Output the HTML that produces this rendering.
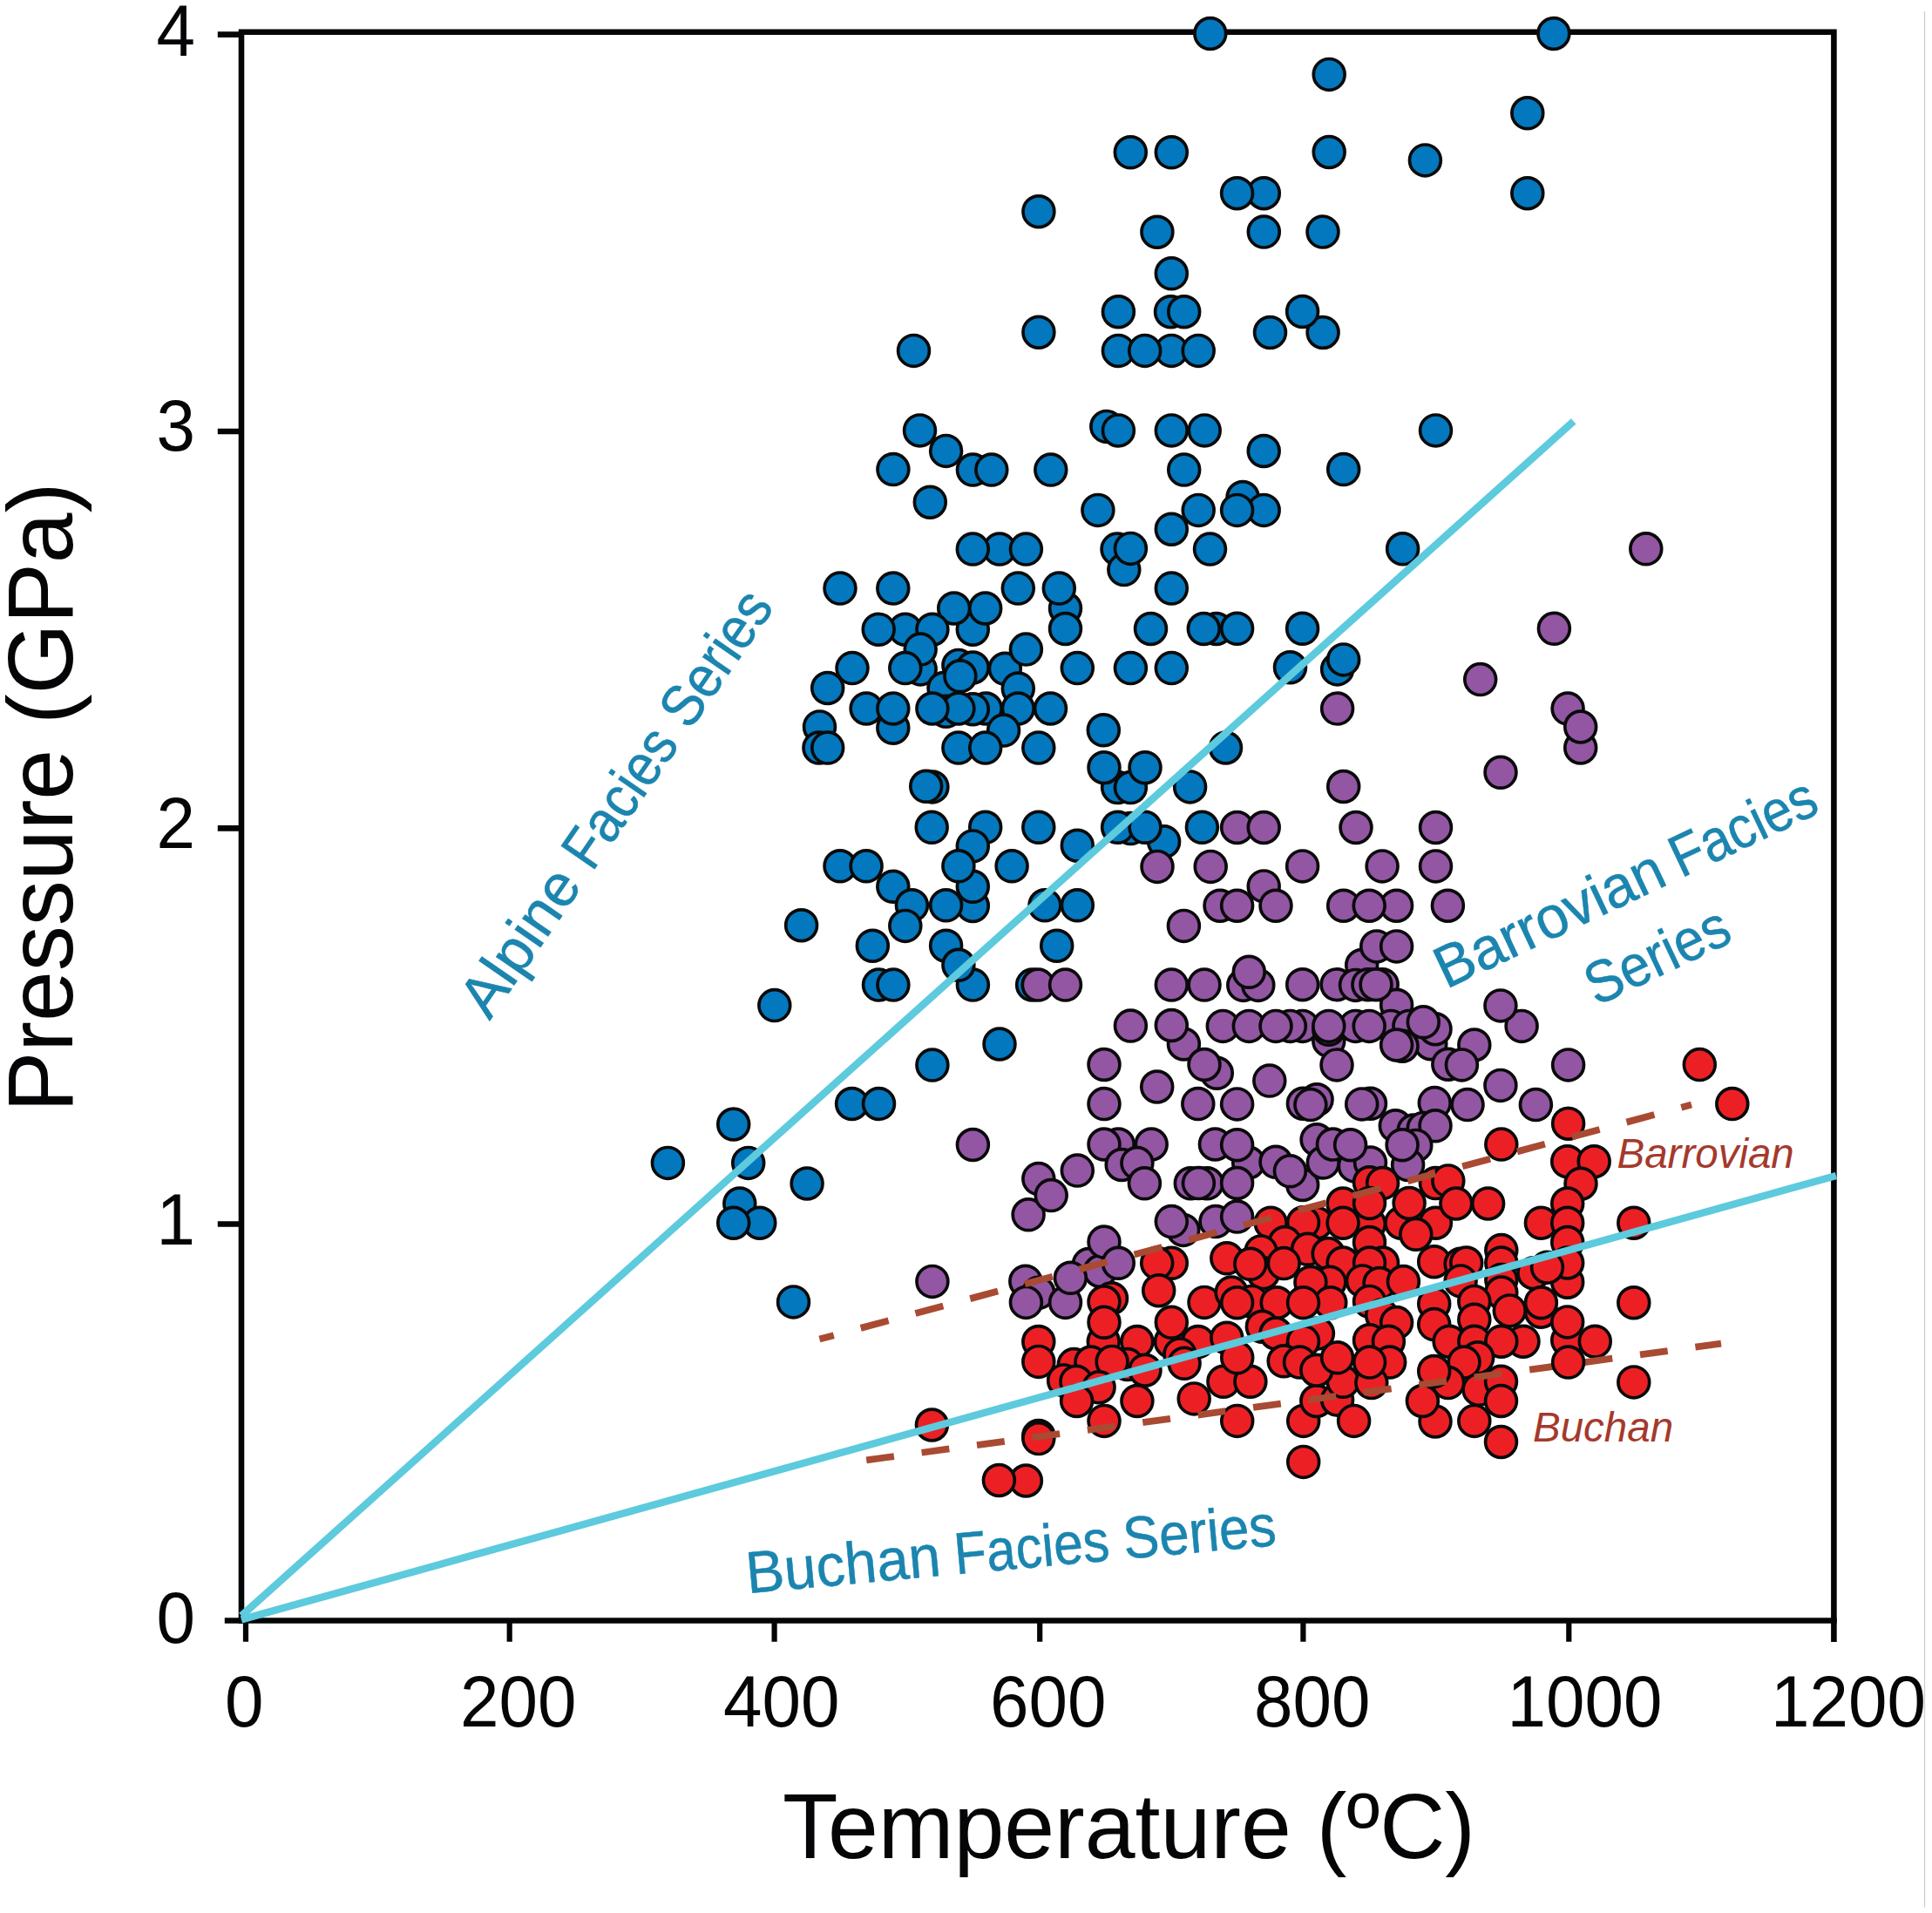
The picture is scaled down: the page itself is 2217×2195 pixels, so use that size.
<!DOCTYPE html>
<html><head><meta charset="utf-8"><title>P-T diagram</title>
<style>
html,body{margin:0;padding:0;background:#fff;}
body{width:2217px;height:2195px;overflow:hidden;position:relative;}
svg{position:absolute;left:0;top:0;display:block;}
text{font-family:"Liberation Sans",sans-serif;}
.b{fill:#0378BE;stroke:#0a0a0a;stroke-width:3.7}
.p{fill:#9256A3;stroke:#0a0a0a;stroke-width:3.7}
.r{fill:#EC2024;stroke:#0a0a0a;stroke-width:3.7}
.ax{stroke:#050507;stroke-width:6.6;fill:none}
.cy{stroke:#5DCADD;stroke-width:8.5;fill:none}
.da{stroke:#A94A33;stroke-width:7.8;fill:none}
.tk{font-size:80px;fill:#050507}
.al{font-size:104px;fill:#050507}
.fs{font-size:68px;fill:#1B85AF;stroke:#1B85AF;stroke-width:0.5}
.it{font-size:47.5px;font-style:italic;fill:#A5392C}
</style></head><body>
<svg width="2217" height="2195" viewBox="0 0 2217 2195">
<rect x="0" y="0" width="2217" height="2195" fill="#fff"/>
<line x1="2208.5" y1="13" x2="2208.5" y2="2188.5" stroke="#cdcdd2" stroke-width="1.3"/>
<!-- frame -->
<path class="ax" d="M277,1862.9 V36.8 H2104.4 V1884"/>
<path class="ax" d="M257.8,1859.5 H2107.7"/>
<!-- y ticks -->
<path class="ax" d="M249.8,39.6 H277 M249.8,495 H277 M249.8,950.4 H277 M249.8,1404.5 H277"/>
<!-- x ticks -->
<path class="ax" d="M282,1859 V1883.7 M584.7,1859 V1883.7 M888.6,1859 V1883.7 M1193.2,1859 V1883.7 M1495.4,1859 V1883.7 M1800.3,1859 V1883.7" style="stroke-width:6.2"/>
<!-- tick labels -->
<g class="tk" text-anchor="end">
<text x="224" y="61.29" transform="scale(1,1.041)">4</text>
<text x="224" y="497.12" transform="scale(1,1.041)">3</text>
<text x="224" y="934.68" transform="scale(1,1.041)">2</text>
<text x="224" y="1371.76" transform="scale(1,1.041)">1</text>
<text x="224" y="1811.24" transform="scale(1,1.041)">0</text>
</g>
<g class="tk">
<text x="258" y="1902.98" transform="scale(1,1.041)">0</text>
<text x="528" y="1902.98" transform="scale(1,1.041)">200</text>
<text x="830" y="1902.98" transform="scale(1,1.041)">400</text>
<text x="1136" y="1902.98" transform="scale(1,1.041)">600</text>
<text x="1439" y="1902.98" transform="scale(1,1.041)">800</text>
<text x="1729.6" y="1902.98" transform="scale(1,1.041)">1000</text>
<text x="2032" y="1902.98" transform="scale(1,1.041)">1200</text>
</g>
<text class="al" x="898" y="2090.69" transform="scale(1,1.02)">Temperature (ºC)</text>
<text class="al" transform="translate(83,1276) rotate(-90) scale(1,1.02)">Pressure (GPa)</text>
<circle class="b" cx="1388.8" cy="38.5" r="17.9"/>
<circle class="b" cx="1782.9" cy="38.5" r="17.9"/>
<circle class="b" cx="1525.2" cy="85.4" r="17.9"/>
<circle class="b" cx="1752.8" cy="129.8" r="17.9"/>
<circle class="b" cx="1525.2" cy="174.5" r="17.9"/>
<circle class="b" cx="1635.4" cy="183.9" r="17.9"/>
<circle class="b" cx="1752.8" cy="221.7" r="17.9"/>
<circle class="b" cx="1450.3" cy="221.7" r="17.9"/>
<circle class="b" cx="1419.6" cy="221.7" r="17.9"/>
<circle class="b" cx="1450.3" cy="266.1" r="17.9"/>
<circle class="b" cx="1518.0" cy="266.1" r="17.9"/>
<circle class="b" cx="1297.3" cy="174.8" r="17.9"/>
<circle class="b" cx="1344.3" cy="174.8" r="17.9"/>
<circle class="b" cx="1191.9" cy="242.7" r="17.9"/>
<circle class="b" cx="1327.9" cy="266.2" r="17.9"/>
<circle class="b" cx="1344.3" cy="313.8" r="17.9"/>
<circle class="b" cx="1283.4" cy="357.7" r="17.9"/>
<circle class="b" cx="1343.5" cy="357.7" r="17.9"/>
<circle class="b" cx="1358.7" cy="357.7" r="17.9"/>
<circle class="b" cx="1191.9" cy="381.2" r="17.9"/>
<circle class="b" cx="1048.5" cy="402.4" r="17.9"/>
<circle class="b" cx="1283.4" cy="402.4" r="17.9"/>
<circle class="b" cx="1344.3" cy="402.4" r="17.9"/>
<circle class="b" cx="1313.7" cy="402.4" r="17.9"/>
<circle class="b" cx="1375.2" cy="402.4" r="17.9"/>
<circle class="b" cx="1269.8" cy="489.4" r="17.9"/>
<circle class="b" cx="1283.4" cy="493.9" r="17.9"/>
<circle class="b" cx="1344.3" cy="493.9" r="17.9"/>
<circle class="b" cx="1382.2" cy="493.9" r="17.9"/>
<circle class="b" cx="1055.5" cy="493.9" r="17.9"/>
<circle class="b" cx="1085.6" cy="517.4" r="17.9"/>
<circle class="b" cx="1024.9" cy="538.6" r="17.9"/>
<circle class="b" cx="1116.4" cy="539.1" r="17.9"/>
<circle class="b" cx="1137.8" cy="539.1" r="17.9"/>
<circle class="b" cx="1205.8" cy="539.1" r="17.9"/>
<circle class="b" cx="1358.7" cy="539.1" r="17.9"/>
<circle class="b" cx="1067.3" cy="576.2" r="17.9"/>
<circle class="b" cx="1259.9" cy="585.4" r="17.9"/>
<circle class="b" cx="1375.2" cy="585.4" r="17.9"/>
<circle class="b" cx="1147.0" cy="630.1" r="17.9"/>
<circle class="b" cx="1116.3" cy="630.1" r="17.9"/>
<circle class="b" cx="964.0" cy="675.1" r="17.9"/>
<circle class="b" cx="1024.8" cy="675.1" r="17.9"/>
<circle class="b" cx="1116.3" cy="722.2" r="17.9"/>
<circle class="b" cx="1094.7" cy="698.0" r="17.9"/>
<circle class="b" cx="1130.7" cy="698.0" r="17.9"/>
<circle class="b" cx="1038.8" cy="722.2" r="17.9"/>
<circle class="b" cx="1008.2" cy="722.2" r="17.9"/>
<circle class="b" cx="1069.9" cy="722.2" r="17.9"/>
<circle class="b" cx="1056.2" cy="767.9" r="17.9"/>
<circle class="b" cx="1056.2" cy="745.1" r="17.9"/>
<circle class="b" cx="1038.8" cy="766.6" r="17.9"/>
<circle class="b" cx="978.0" cy="766.6" r="17.9"/>
<circle class="b" cx="1099.9" cy="763.4" r="17.9"/>
<circle class="b" cx="1116.3" cy="766.0" r="17.9"/>
<circle class="b" cx="1083.0" cy="789.5" r="17.9"/>
<circle class="b" cx="1101.9" cy="775.8" r="17.9"/>
<circle class="b" cx="949.7" cy="789.5" r="17.9"/>
<circle class="b" cx="1024.8" cy="835.2" r="17.9"/>
<circle class="b" cx="994.1" cy="813.0" r="17.9"/>
<circle class="b" cx="1024.8" cy="813.0" r="17.9"/>
<circle class="b" cx="1085.6" cy="816.3" r="17.9"/>
<circle class="b" cx="1131.3" cy="813.0" r="17.9"/>
<circle class="b" cx="1116.3" cy="813.7" r="17.9"/>
<circle class="b" cx="1099.9" cy="813.0" r="17.9"/>
<circle class="b" cx="1069.9" cy="813.0" r="17.9"/>
<circle class="b" cx="940.5" cy="833.9" r="17.9"/>
<circle class="b" cx="1177.4" cy="630.1" r="17.9"/>
<circle class="b" cx="1344.3" cy="607.2" r="17.9"/>
<circle class="b" cx="1282.0" cy="630.1" r="17.9"/>
<circle class="b" cx="1289.8" cy="653.6" r="17.9"/>
<circle class="b" cx="1297.4" cy="629.4" r="17.9"/>
<circle class="b" cx="1388.5" cy="630.1" r="17.9"/>
<circle class="b" cx="1168.3" cy="675.1" r="17.9"/>
<circle class="b" cx="1222.5" cy="698.0" r="17.9"/>
<circle class="b" cx="1215.3" cy="675.1" r="17.9"/>
<circle class="b" cx="1222.5" cy="721.5" r="17.9"/>
<circle class="b" cx="1344.3" cy="675.1" r="17.9"/>
<circle class="b" cx="1320.5" cy="721.5" r="17.9"/>
<circle class="b" cx="1395.7" cy="721.5" r="17.9"/>
<circle class="b" cx="1381.3" cy="721.5" r="17.9"/>
<circle class="b" cx="1153.3" cy="767.3" r="17.9"/>
<circle class="b" cx="1177.4" cy="745.1" r="17.9"/>
<circle class="b" cx="1236.3" cy="766.6" r="17.9"/>
<circle class="b" cx="1297.4" cy="766.6" r="17.9"/>
<circle class="b" cx="1344.3" cy="766.6" r="17.9"/>
<circle class="b" cx="1168.3" cy="790.1" r="17.9"/>
<circle class="b" cx="1168.3" cy="813.0" r="17.9"/>
<circle class="b" cx="1205.5" cy="813.0" r="17.9"/>
<circle class="b" cx="1266.3" cy="837.8" r="17.9"/>
<circle class="b" cx="1151.6" cy="838.1" r="17.9"/>
<circle class="b" cx="1518.1" cy="381.5" r="17.9"/>
<circle class="b" cx="1494.6" cy="357.5" r="17.9"/>
<circle class="b" cx="1457.5" cy="381.5" r="17.9"/>
<circle class="b" cx="1647.5" cy="493.9" r="17.9"/>
<circle class="b" cx="1450.2" cy="517.5" r="17.9"/>
<circle class="b" cx="1541.7" cy="538.6" r="17.9"/>
<circle class="b" cx="1426.1" cy="570.5" r="17.9"/>
<circle class="b" cx="1450.2" cy="585.4" r="17.9"/>
<circle class="b" cx="1419.6" cy="585.4" r="17.9"/>
<circle class="b" cx="1609.6" cy="629.8" r="17.9"/>
<circle class="b" cx="1419.6" cy="721.3" r="17.9"/>
<circle class="b" cx="1494.6" cy="721.3" r="17.9"/>
<circle class="b" cx="1480.5" cy="765.8" r="17.9"/>
<circle class="b" cx="1534.6" cy="767.9" r="17.9"/>
<circle class="b" cx="1541.7" cy="756.9" r="17.9"/>
<circle class="b" cx="939.9" cy="858.1" r="17.9"/>
<circle class="b" cx="949.7" cy="858.1" r="17.9"/>
<circle class="b" cx="1099.9" cy="858.1" r="17.9"/>
<circle class="b" cx="1130.7" cy="858.1" r="17.9"/>
<circle class="b" cx="1069.9" cy="902.9" r="17.9"/>
<circle class="b" cx="1062.7" cy="902.3" r="17.9"/>
<circle class="b" cx="1069.2" cy="949.3" r="17.9"/>
<circle class="b" cx="1130.7" cy="949.3" r="17.9"/>
<circle class="b" cx="1116.3" cy="970.9" r="17.9"/>
<circle class="b" cx="964.0" cy="993.8" r="17.9"/>
<circle class="b" cx="994.1" cy="993.8" r="17.9"/>
<circle class="b" cx="1024.8" cy="1017.3" r="17.9"/>
<circle class="b" cx="1046.4" cy="1038.8" r="17.9"/>
<circle class="b" cx="1038.8" cy="1062.4" r="17.9"/>
<circle class="b" cx="1116.3" cy="1039.5" r="17.9"/>
<circle class="b" cx="1116.3" cy="1017.3" r="17.9"/>
<circle class="b" cx="1099.9" cy="993.8" r="17.9"/>
<circle class="b" cx="1085.6" cy="1038.8" r="17.9"/>
<circle class="b" cx="919.6" cy="1061.7" r="17.9"/>
<circle class="b" cx="1001.3" cy="1085.2" r="17.9"/>
<circle class="b" cx="1085.6" cy="1085.2" r="17.9"/>
<circle class="b" cx="1191.8" cy="858.1" r="17.9"/>
<circle class="b" cx="1282.6" cy="903.6" r="17.9"/>
<circle class="b" cx="1297.4" cy="903.6" r="17.9"/>
<circle class="b" cx="1267.0" cy="880.7" r="17.9"/>
<circle class="b" cx="1314.0" cy="880.7" r="17.9"/>
<circle class="b" cx="1365.6" cy="902.9" r="17.9"/>
<circle class="b" cx="1191.8" cy="949.3" r="17.9"/>
<circle class="b" cx="1297.4" cy="950.6" r="17.9"/>
<circle class="b" cx="1282.6" cy="949.3" r="17.9"/>
<circle class="b" cx="1335.6" cy="965.7" r="17.9"/>
<circle class="b" cx="1314.0" cy="949.3" r="17.9"/>
<circle class="b" cx="1379.4" cy="949.3" r="17.9"/>
<circle class="b" cx="1236.3" cy="970.2" r="17.9"/>
<circle class="b" cx="1161.1" cy="993.8" r="17.9"/>
<circle class="b" cx="1199.0" cy="1038.8" r="17.9"/>
<circle class="b" cx="1236.3" cy="1038.8" r="17.9"/>
<circle class="b" cx="1212.7" cy="1085.2" r="17.9"/>
<circle class="b" cx="888.8" cy="1153.6" r="17.9"/>
<circle class="b" cx="841.7" cy="1290.0" r="17.9"/>
<circle class="b" cx="766.4" cy="1334.4" r="17.9"/>
<circle class="b" cx="858.7" cy="1334.4" r="17.9"/>
<circle class="b" cx="848.8" cy="1381.0" r="17.9"/>
<circle class="b" cx="871.8" cy="1403.2" r="17.9"/>
<circle class="b" cx="841.7" cy="1403.2" r="17.9"/>
<circle class="b" cx="1008.5" cy="1130.1" r="17.9"/>
<circle class="b" cx="1024.9" cy="1130.1" r="17.9"/>
<circle class="b" cx="1116.4" cy="1130.1" r="17.9"/>
<circle class="b" cx="1099.9" cy="1107.3" r="17.9"/>
<circle class="b" cx="1147.0" cy="1198.0" r="17.9"/>
<circle class="b" cx="1069.9" cy="1222.1" r="17.9"/>
<circle class="b" cx="977.6" cy="1266.5" r="17.9"/>
<circle class="b" cx="1008.5" cy="1266.5" r="17.9"/>
<circle class="b" cx="926.1" cy="1358.0" r="17.9"/>
<circle class="b" cx="910.5" cy="1493.9" r="17.9"/>
<circle class="b" cx="1184.6" cy="1130.1" r="17.9"/>
<circle class="b" cx="1406.5" cy="858.0" r="17.9"/>
<circle class="p" cx="1888.8" cy="629.8" r="17.9"/>
<circle class="p" cx="1783.4" cy="721.3" r="17.9"/>
<circle class="p" cx="1698.7" cy="779.6" r="17.9"/>
<circle class="p" cx="1328.0" cy="994.4" r="17.9"/>
<circle class="p" cx="1389.2" cy="994.4" r="17.9"/>
<circle class="p" cx="1358.4" cy="1062.4" r="17.9"/>
<circle class="p" cx="1116.4" cy="1313.5" r="17.9"/>
<circle class="p" cx="1069.9" cy="1470.4" r="17.9"/>
<circle class="p" cx="1191.2" cy="1130.1" r="17.9"/>
<circle class="p" cx="1222.5" cy="1130.1" r="17.9"/>
<circle class="p" cx="1344.3" cy="1130.1" r="17.9"/>
<circle class="p" cx="1382.0" cy="1130.1" r="17.9"/>
<circle class="p" cx="1297.4" cy="1177.1" r="17.9"/>
<circle class="p" cx="1358.4" cy="1198.0" r="17.9"/>
<circle class="p" cx="1344.3" cy="1176.5" r="17.9"/>
<circle class="p" cx="1267.0" cy="1221.5" r="17.9"/>
<circle class="p" cx="1396.3" cy="1231.3" r="17.9"/>
<circle class="p" cx="1382.0" cy="1221.5" r="17.9"/>
<circle class="p" cx="1327.7" cy="1247.0" r="17.9"/>
<circle class="p" cx="1267.0" cy="1266.6" r="17.9"/>
<circle class="p" cx="1374.8" cy="1266.6" r="17.9"/>
<circle class="p" cx="1283.3" cy="1313.0" r="17.9"/>
<circle class="p" cx="1267.0" cy="1313.0" r="17.9"/>
<circle class="p" cx="1321.2" cy="1313.0" r="17.9"/>
<circle class="p" cx="1287.2" cy="1336.5" r="17.9"/>
<circle class="p" cx="1304.9" cy="1334.6" r="17.9"/>
<circle class="p" cx="1394.4" cy="1313.0" r="17.9"/>
<circle class="p" cx="1236.3" cy="1343.1" r="17.9"/>
<circle class="p" cx="1191.8" cy="1352.6" r="17.9"/>
<circle class="p" cx="1180.1" cy="1393.8" r="17.9"/>
<circle class="p" cx="1206.2" cy="1371.6" r="17.9"/>
<circle class="p" cx="1313.4" cy="1357.8" r="17.9"/>
<circle class="p" cx="1366.3" cy="1357.8" r="17.9"/>
<circle class="p" cx="1385.2" cy="1357.8" r="17.9"/>
<circle class="p" cx="1375.4" cy="1357.6" r="17.9"/>
<circle class="p" cx="1357.8" cy="1411.4" r="17.9"/>
<circle class="p" cx="1344.3" cy="1401.6" r="17.9"/>
<circle class="p" cx="1395.0" cy="1401.6" r="17.9"/>
<circle class="p" cx="1249.3" cy="1450.6" r="17.9"/>
<circle class="p" cx="1262.4" cy="1458.5" r="17.9"/>
<circle class="p" cx="1267.0" cy="1425.1" r="17.9"/>
<circle class="p" cx="1283.3" cy="1449.3" r="17.9"/>
<circle class="p" cx="1176.8" cy="1470.2" r="17.9"/>
<circle class="p" cx="1191.8" cy="1483.3" r="17.9"/>
<circle class="p" cx="1222.5" cy="1494.4" r="17.9"/>
<circle class="p" cx="1228.4" cy="1466.3" r="17.9"/>
<circle class="p" cx="1177.4" cy="1494.4" r="17.9"/>
<circle class="p" cx="1534.6" cy="813.1" r="17.9"/>
<circle class="p" cx="1799.1" cy="813.1" r="17.9"/>
<circle class="p" cx="1813.7" cy="858.0" r="17.9"/>
<circle class="p" cx="1813.7" cy="834.0" r="17.9"/>
<circle class="p" cx="1722.0" cy="886.3" r="17.9"/>
<circle class="p" cx="1541.7" cy="902.5" r="17.9"/>
<circle class="p" cx="1419.6" cy="949.5" r="17.9"/>
<circle class="p" cx="1450.2" cy="949.5" r="17.9"/>
<circle class="p" cx="1556.0" cy="949.5" r="17.9"/>
<circle class="p" cx="1647.5" cy="949.5" r="17.9"/>
<circle class="p" cx="1400.0" cy="1039.2" r="17.9"/>
<circle class="p" cx="1494.6" cy="993.9" r="17.9"/>
<circle class="p" cx="1586.1" cy="993.9" r="17.9"/>
<circle class="p" cx="1647.5" cy="993.9" r="17.9"/>
<circle class="p" cx="1450.2" cy="1016.9" r="17.9"/>
<circle class="p" cx="1419.6" cy="1039.2" r="17.9"/>
<circle class="p" cx="1464.0" cy="1039.2" r="17.9"/>
<circle class="p" cx="1541.7" cy="1039.2" r="17.9"/>
<circle class="p" cx="1602.6" cy="1039.2" r="17.9"/>
<circle class="p" cx="1571.2" cy="1039.2" r="17.9"/>
<circle class="p" cx="1661.4" cy="1039.2" r="17.9"/>
<circle class="p" cx="1562.7" cy="1107.5" r="17.9"/>
<circle class="p" cx="1579.7" cy="1085.9" r="17.9"/>
<circle class="p" cx="1602.6" cy="1085.9" r="17.9"/>
<circle class="p" cx="1426.8" cy="1130.4" r="17.9"/>
<circle class="p" cx="1443.8" cy="1130.4" r="17.9"/>
<circle class="p" cx="1433.3" cy="1115.3" r="17.9"/>
<circle class="p" cx="1494.7" cy="1129.7" r="17.9"/>
<circle class="p" cx="1534.0" cy="1129.7" r="17.9"/>
<circle class="p" cx="1555.5" cy="1130.4" r="17.9"/>
<circle class="p" cx="1569.9" cy="1129.7" r="17.9"/>
<circle class="p" cx="1586.2" cy="1129.7" r="17.9"/>
<circle class="p" cx="1602.6" cy="1153.2" r="17.9"/>
<circle class="p" cx="1579.0" cy="1129.7" r="17.9"/>
<circle class="p" cx="1403.3" cy="1177.4" r="17.9"/>
<circle class="p" cx="1433.3" cy="1177.4" r="17.9"/>
<circle class="p" cx="1494.7" cy="1177.4" r="17.9"/>
<circle class="p" cx="1480.4" cy="1177.4" r="17.9"/>
<circle class="p" cx="1464.0" cy="1177.4" r="17.9"/>
<circle class="p" cx="1524.8" cy="1194.4" r="17.9"/>
<circle class="p" cx="1524.8" cy="1181.3" r="17.9"/>
<circle class="p" cx="1555.5" cy="1177.4" r="17.9"/>
<circle class="p" cx="1524.8" cy="1177.4" r="17.9"/>
<circle class="p" cx="1596.0" cy="1177.4" r="17.9"/>
<circle class="p" cx="1571.2" cy="1177.4" r="17.9"/>
<circle class="p" cx="1616.9" cy="1177.4" r="17.9"/>
<circle class="p" cx="1641.8" cy="1197.7" r="17.9"/>
<circle class="p" cx="1647.0" cy="1180.7" r="17.9"/>
<circle class="p" cx="1633.3" cy="1172.8" r="17.9"/>
<circle class="p" cx="1609.1" cy="1200.3" r="17.9"/>
<circle class="p" cx="1602.6" cy="1199.0" r="17.9"/>
<circle class="p" cx="1534.0" cy="1221.9" r="17.9"/>
<circle class="p" cx="1456.8" cy="1240.1" r="17.9"/>
<circle class="p" cx="1419.6" cy="1266.9" r="17.9"/>
<circle class="p" cx="1495.4" cy="1266.3" r="17.9"/>
<circle class="p" cx="1511.1" cy="1261.7" r="17.9"/>
<circle class="p" cx="1503.9" cy="1267.6" r="17.9"/>
<circle class="p" cx="1572.5" cy="1266.3" r="17.9"/>
<circle class="p" cx="1562.7" cy="1266.9" r="17.9"/>
<circle class="p" cx="1601.3" cy="1291.8" r="17.9"/>
<circle class="p" cx="1646.3" cy="1265.6" r="17.9"/>
<circle class="p" cx="1622.2" cy="1297.0" r="17.9"/>
<circle class="p" cx="1633.3" cy="1294.4" r="17.9"/>
<circle class="p" cx="1647.0" cy="1291.8" r="17.9"/>
<circle class="p" cx="1746.1" cy="1177.4" r="17.9"/>
<circle class="p" cx="1721.9" cy="1153.9" r="17.9"/>
<circle class="p" cx="1691.8" cy="1199.0" r="17.9"/>
<circle class="p" cx="1661.8" cy="1221.2" r="17.9"/>
<circle class="p" cx="1677.4" cy="1221.9" r="17.9"/>
<circle class="p" cx="1799.6" cy="1221.9" r="17.9"/>
<circle class="p" cx="1721.9" cy="1245.4" r="17.9"/>
<circle class="p" cx="1684.0" cy="1267.6" r="17.9"/>
<circle class="p" cx="1762.4" cy="1267.6" r="17.9"/>
<circle class="p" cx="1432.7" cy="1334.0" r="17.9"/>
<circle class="p" cx="1419.6" cy="1313.7" r="17.9"/>
<circle class="p" cx="1419.6" cy="1357.5" r="17.9"/>
<circle class="p" cx="1464.0" cy="1333.3" r="17.9"/>
<circle class="p" cx="1494.7" cy="1359.5" r="17.9"/>
<circle class="p" cx="1480.4" cy="1343.8" r="17.9"/>
<circle class="p" cx="1511.1" cy="1307.8" r="17.9"/>
<circle class="p" cx="1518.3" cy="1334.0" r="17.9"/>
<circle class="p" cx="1529.4" cy="1313.1" r="17.9"/>
<circle class="p" cx="1554.2" cy="1337.9" r="17.9"/>
<circle class="p" cx="1572.5" cy="1334.0" r="17.9"/>
<circle class="p" cx="1549.6" cy="1313.7" r="17.9"/>
<circle class="p" cx="1624.8" cy="1314.4" r="17.9"/>
<circle class="p" cx="1615.6" cy="1336.6" r="17.9"/>
<circle class="p" cx="1609.1" cy="1313.7" r="17.9"/>
<circle class="p" cx="1419.6" cy="1396.1" r="17.9"/>
<circle class="r" cx="1344.3" cy="1449.3" r="17.9"/>
<circle class="r" cx="1327.7" cy="1449.3" r="17.9"/>
<circle class="r" cx="1329.7" cy="1480.7" r="17.9"/>
<circle class="r" cx="1382.0" cy="1494.4" r="17.9"/>
<circle class="r" cx="1275.5" cy="1489.8" r="17.9"/>
<circle class="r" cx="1267.0" cy="1493.8" r="17.9"/>
<circle class="r" cx="1266.3" cy="1539.5" r="17.9"/>
<circle class="r" cx="1267.0" cy="1517.3" r="17.9"/>
<circle class="r" cx="1343.4" cy="1539.5" r="17.9"/>
<circle class="r" cx="1344.3" cy="1517.3" r="17.9"/>
<circle class="r" cx="1304.9" cy="1539.5" r="17.9"/>
<circle class="r" cx="1374.8" cy="1539.5" r="17.9"/>
<circle class="r" cx="1191.8" cy="1539.5" r="17.9"/>
<circle class="r" cx="1191.8" cy="1562.4" r="17.9"/>
<circle class="r" cx="1232.3" cy="1565.6" r="17.9"/>
<circle class="r" cx="1293.8" cy="1565.6" r="17.9"/>
<circle class="r" cx="1251.9" cy="1563.0" r="17.9"/>
<circle class="r" cx="1276.1" cy="1562.4" r="17.9"/>
<circle class="r" cx="1314.0" cy="1572.2" r="17.9"/>
<circle class="r" cx="1353.9" cy="1553.9" r="17.9"/>
<circle class="r" cx="1359.1" cy="1564.3" r="17.9"/>
<circle class="r" cx="1220.6" cy="1583.9" r="17.9"/>
<circle class="r" cx="1234.9" cy="1585.2" r="17.9"/>
<circle class="r" cx="1261.1" cy="1591.8" r="17.9"/>
<circle class="r" cx="1799.6" cy="1289.2" r="17.9"/>
<circle class="r" cx="1571.5" cy="1356.8" r="17.9"/>
<circle class="r" cx="1586.6" cy="1357.6" r="17.9"/>
<circle class="r" cx="1647.4" cy="1357.6" r="17.9"/>
<circle class="r" cx="1541.1" cy="1381.0" r="17.9"/>
<circle class="r" cx="1571.5" cy="1404.5" r="17.9"/>
<circle class="r" cx="1571.5" cy="1380.5" r="17.9"/>
<circle class="r" cx="1607.8" cy="1403.2" r="17.9"/>
<circle class="r" cx="1617.1" cy="1380.5" r="17.9"/>
<circle class="r" cx="1458.2" cy="1403.2" r="17.9"/>
<circle class="r" cx="1510.7" cy="1403.2" r="17.9"/>
<circle class="r" cx="1495.5" cy="1402.8" r="17.9"/>
<circle class="r" cx="1541.1" cy="1403.2" r="17.9"/>
<circle class="r" cx="1647.4" cy="1403.2" r="17.9"/>
<circle class="r" cx="1571.5" cy="1425.5" r="17.9"/>
<circle class="r" cx="1474.5" cy="1425.5" r="17.9"/>
<circle class="r" cx="1624.8" cy="1416.3" r="17.9"/>
<circle class="r" cx="1447.0" cy="1435.9" r="17.9"/>
<circle class="r" cx="1500.6" cy="1433.3" r="17.9"/>
<circle class="r" cx="1524.2" cy="1438.5" r="17.9"/>
<circle class="r" cx="1407.8" cy="1443.8" r="17.9"/>
<circle class="r" cx="1449.7" cy="1460.7" r="17.9"/>
<circle class="r" cx="1434.8" cy="1450.3" r="17.9"/>
<circle class="r" cx="1473.2" cy="1449.6" r="17.9"/>
<circle class="r" cx="1586.6" cy="1449.0" r="17.9"/>
<circle class="r" cx="1541.1" cy="1449.0" r="17.9"/>
<circle class="r" cx="1571.5" cy="1449.0" r="17.9"/>
<circle class="r" cx="1645.7" cy="1447.7" r="17.9"/>
<circle class="r" cx="1526.0" cy="1471.2" r="17.9"/>
<circle class="r" cx="1503.9" cy="1471.2" r="17.9"/>
<circle class="r" cx="1563.4" cy="1469.9" r="17.9"/>
<circle class="r" cx="1583.0" cy="1472.5" r="17.9"/>
<circle class="r" cx="1610.4" cy="1470.5" r="17.9"/>
<circle class="r" cx="1413.1" cy="1483.0" r="17.9"/>
<circle class="r" cx="1436.6" cy="1493.4" r="17.9"/>
<circle class="r" cx="1419.6" cy="1494.7" r="17.9"/>
<circle class="r" cx="1465.2" cy="1494.7" r="17.9"/>
<circle class="r" cx="1526.8" cy="1494.7" r="17.9"/>
<circle class="r" cx="1495.5" cy="1494.7" r="17.9"/>
<circle class="r" cx="1571.5" cy="1493.4" r="17.9"/>
<circle class="r" cx="1645.7" cy="1496.0" r="17.9"/>
<circle class="r" cx="1585.6" cy="1509.1" r="17.9"/>
<circle class="r" cx="1602.6" cy="1517.6" r="17.9"/>
<circle class="r" cx="1645.7" cy="1519.6" r="17.9"/>
<circle class="r" cx="1448.4" cy="1522.2" r="17.9"/>
<circle class="r" cx="1464.0" cy="1530.0" r="17.9"/>
<circle class="r" cx="1512.4" cy="1530.0" r="17.9"/>
<circle class="r" cx="1495.5" cy="1539.2" r="17.9"/>
<circle class="r" cx="1407.8" cy="1535.2" r="17.9"/>
<circle class="r" cx="1571.5" cy="1537.8" r="17.9"/>
<circle class="r" cx="1593.4" cy="1539.2" r="17.9"/>
<circle class="r" cx="1722.8" cy="1313.1" r="17.9"/>
<circle class="r" cx="1798.7" cy="1332.7" r="17.9"/>
<circle class="r" cx="1829.2" cy="1332.7" r="17.9"/>
<circle class="r" cx="1814.0" cy="1358.2" r="17.9"/>
<circle class="r" cx="1798.7" cy="1381.0" r="17.9"/>
<circle class="r" cx="1768.4" cy="1403.2" r="17.9"/>
<circle class="r" cx="1798.7" cy="1403.2" r="17.9"/>
<circle class="r" cx="1798.7" cy="1425.5" r="17.9"/>
<circle class="r" cx="1798.7" cy="1471.2" r="17.9"/>
<circle class="r" cx="1798.7" cy="1449.0" r="17.9"/>
<circle class="r" cx="1874.8" cy="1403.2" r="17.9"/>
<circle class="r" cx="1874.8" cy="1494.7" r="17.9"/>
<circle class="r" cx="1707.6" cy="1381.0" r="17.9"/>
<circle class="r" cx="1661.8" cy="1354.9" r="17.9"/>
<circle class="r" cx="1670.9" cy="1381.0" r="17.9"/>
<circle class="r" cx="1722.8" cy="1434.6" r="17.9"/>
<circle class="r" cx="1722.8" cy="1449.0" r="17.9"/>
<circle class="r" cx="1676.1" cy="1450.3" r="17.9"/>
<circle class="r" cx="1682.7" cy="1449.0" r="17.9"/>
<circle class="r" cx="1676.1" cy="1469.9" r="17.9"/>
<circle class="r" cx="1722.8" cy="1468.6" r="17.9"/>
<circle class="r" cx="1722.8" cy="1483.0" r="17.9"/>
<circle class="r" cx="1759.8" cy="1460.7" r="17.9"/>
<circle class="r" cx="1775.5" cy="1454.2" r="17.9"/>
<circle class="r" cx="1768.4" cy="1505.2" r="17.9"/>
<circle class="r" cx="1768.4" cy="1494.7" r="17.9"/>
<circle class="r" cx="1691.8" cy="1493.4" r="17.9"/>
<circle class="r" cx="1732.3" cy="1503.9" r="17.9"/>
<circle class="r" cx="1691.8" cy="1514.3" r="17.9"/>
<circle class="r" cx="1798.7" cy="1537.8" r="17.9"/>
<circle class="r" cx="1798.7" cy="1516.9" r="17.9"/>
<circle class="r" cx="1830.3" cy="1539.2" r="17.9"/>
<circle class="r" cx="1663.1" cy="1539.2" r="17.9"/>
<circle class="r" cx="1691.8" cy="1539.2" r="17.9"/>
<circle class="r" cx="1748.0" cy="1539.2" r="17.9"/>
<circle class="r" cx="1722.8" cy="1539.2" r="17.9"/>
<circle class="r" cx="1950.3" cy="1221.6" r="17.9"/>
<circle class="r" cx="1987.8" cy="1266.6" r="17.9"/>
<circle class="r" cx="1695.7" cy="1557.8" r="17.9"/>
<circle class="r" cx="1680.1" cy="1563.1" r="17.9"/>
<circle class="r" cx="1661.8" cy="1586.6" r="17.9"/>
<circle class="r" cx="1697.0" cy="1594.4" r="17.9"/>
<circle class="r" cx="1722.5" cy="1585.3" r="17.9"/>
<circle class="r" cx="1722.5" cy="1607.5" r="17.9"/>
<circle class="r" cx="1691.8" cy="1630.4" r="17.9"/>
<circle class="r" cx="1722.5" cy="1654.5" r="17.9"/>
<circle class="r" cx="1874.8" cy="1585.9" r="17.9"/>
<circle class="r" cx="1403.9" cy="1585.3" r="17.9"/>
<circle class="r" cx="1434.9" cy="1585.3" r="17.9"/>
<circle class="r" cx="1419.7" cy="1557.8" r="17.9"/>
<circle class="r" cx="1419.7" cy="1630.4" r="17.9"/>
<circle class="r" cx="1495.7" cy="1630.4" r="17.9"/>
<circle class="r" cx="1510.8" cy="1607.5" r="17.9"/>
<circle class="r" cx="1534.6" cy="1606.2" r="17.9"/>
<circle class="r" cx="1553.6" cy="1630.4" r="17.9"/>
<circle class="r" cx="1495.7" cy="1677.4" r="17.9"/>
<circle class="r" cx="1473.2" cy="1561.8" r="17.9"/>
<circle class="r" cx="1491.5" cy="1563.1" r="17.9"/>
<circle class="r" cx="1541.1" cy="1585.3" r="17.9"/>
<circle class="r" cx="1510.8" cy="1572.2" r="17.9"/>
<circle class="r" cx="1534.6" cy="1557.8" r="17.9"/>
<circle class="r" cx="1594.7" cy="1563.1" r="17.9"/>
<circle class="r" cx="1573.8" cy="1586.6" r="17.9"/>
<circle class="r" cx="1571.6" cy="1563.1" r="17.9"/>
<circle class="r" cx="1647.0" cy="1631.0" r="17.9"/>
<circle class="r" cx="1632.4" cy="1607.5" r="17.9"/>
<circle class="r" cx="1645.7" cy="1573.5" r="17.9"/>
<circle class="r" cx="1235.6" cy="1607.5" r="17.9"/>
<circle class="r" cx="1304.9" cy="1607.5" r="17.9"/>
<circle class="r" cx="1370.2" cy="1604.9" r="17.9"/>
<circle class="r" cx="1267.0" cy="1630.4" r="17.9"/>
<circle class="r" cx="1191.8" cy="1647.4" r="17.9"/>
<circle class="r" cx="1191.8" cy="1650.6" r="17.9"/>
<circle class="r" cx="1177.4" cy="1699.0" r="17.9"/>
<circle class="r" cx="1069.4" cy="1635.0" r="17.9"/>
<circle class="r" cx="1146.4" cy="1698.5" r="17.9"/>
<!-- dashed -->
<line class="da" x1="940.4" y1="1536.6" x2="1941" y2="1267.6" stroke-dasharray="33 32" stroke-dashoffset="16"/>
<line class="da" x1="994.2" y1="1675.4" x2="1975" y2="1541.7" stroke-dasharray="32 32"/>
<circle class="r" cx="1799.6" cy="1563.1" r="17.9"/>
<!-- cyan -->
<line class="cy" x1="277" y1="1854" x2="1805.7" y2="483.4"/>
<line class="cy" x1="277" y1="1858.4" x2="2107" y2="1349"/>
<!-- labels -->
<text class="fs" transform="translate(561.8,1171.8) rotate(-55.40)"><tspan x="0.0" y="0.0" textLength="189.5" lengthAdjust="spacingAndGlyphs">Alpine</tspan> <tspan x="207.3" y="0.0" textLength="178.4" lengthAdjust="spacingAndGlyphs">Facies</tspan> <tspan x="404.0" y="0.0" textLength="173.0" lengthAdjust="spacingAndGlyphs">Series</tspan></text>
<text class="fs" transform="translate(1659.5,1135.3) rotate(-25.30)"><tspan x="0.0" y="0.0" textLength="283.5" lengthAdjust="spacingAndGlyphs">Barrovian</tspan> <tspan x="298.3" y="0.0" textLength="178.4" lengthAdjust="spacingAndGlyphs">Facies</tspan> <tspan x="147.7" y="91.2" textLength="175.6" lengthAdjust="spacingAndGlyphs">Series</tspan></text>
<text class="fs" transform="translate(858.0,1828.2) rotate(-5.20)"><tspan x="0.0" y="0.0" textLength="224.0" lengthAdjust="spacingAndGlyphs">Buchan</tspan> <tspan x="240.0" y="0.0" textLength="178.4" lengthAdjust="spacingAndGlyphs">Facies</tspan> <tspan x="434.5" y="0.0" textLength="176.0" lengthAdjust="spacingAndGlyphs">Series</tspan></text>
<text class="it" x="1855.5" y="1339.5">Barrovian</text>
<text class="it" x="1759" y="1654">Buchan</text>

</svg>
</body></html>
